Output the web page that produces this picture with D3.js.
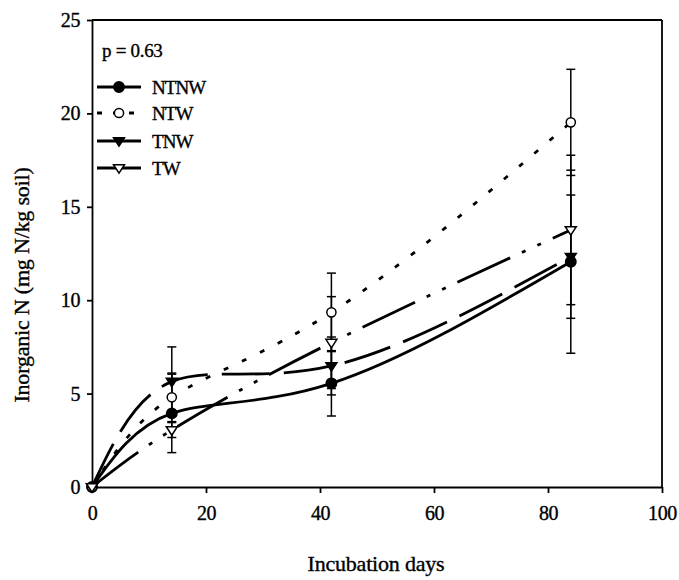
<!DOCTYPE html>
<html>
<head>
<meta charset="utf-8">
<script src="https://cdn.jsdelivr.net/npm/d3@7"></script>
<style>
  body { margin: 0; background: #fff; }
  svg text { font-family: "Liberation Serif", "Times New Roman", serif; fill: #000; stroke: #000; stroke-width: 0.35; }
</style>
</head>
<body>
<svg id="chart" width="679" height="580"></svg>
<script>
// sampling days
const days = [0, 14, 42, 84];

// mean inorganic N (mg N/kg soil), per treatment
const ntnw = [0, 3.94, 5.55, 12.06];
const ntw = [0, 4.8, 9.35, 19.52];
const tnw = [0, 5.64, 6.48, 12.33];
const tw = [0, 3.05, 7.73, 13.76];

// error bar half-lengths
const ntnwErr = [0, 2.1, 1.75, 4.9];
const ntwErr = [0, 1.3, 2.1, 2.84];
const tnwErr = [0, 1.86, 1.55, 3.3];
const twErr = [0, 0.4, 2.46, 4.0];

const xTicks = [0, 20, 40, 60, 80, 100];
const yTicks = [0, 5, 10, 15, 20, 25];
const pLabel = 'p = 0.63';

const series = [
  { name: 'NTNW', values: ntnw, err: ntnwErr, dash: null, marker: 'circle', fill: '#000' },
  { name: 'NTW', values: ntw, err: ntwErr, dash: '5,15', marker: 'circle', fill: '#fff' },
  { name: 'TNW', values: tnw, err: tnwErr, dash: '48,14', marker: 'tri', fill: '#000' },
  { name: 'TW', values: tw, err: twErr, dash: '58,13,4,13,4,13', marker: 'tri', fill: '#fff' },
];

const margin = { top: 20, right: 17, bottom: 93, left: 92 };
const width = 679 - margin.left - margin.right;
const height = 580 - margin.top - margin.bottom;

const svg = d3.select('#chart');
const g = svg.append('g').attr('transform', `translate(${margin.left},${margin.top})`);

const x = d3.scaleLinear().domain([0, 100]).range([0, width]);
const y = d3.scaleLinear().domain([0, 25]).range([height, 0]);

// axes
const xAxis = g.append('g')
  .attr('transform', `translate(0,${height})`)
  .call(d3.axisBottom(x).tickValues(xTicks).tickSize(6).tickSizeOuter(0).tickPadding(13));
const yAxis = g.append('g')
  .call(d3.axisLeft(y).tickValues(yTicks).tickSize(5).tickSizeOuter(0).tickPadding(7));

[xAxis, yAxis].forEach((a) => {
  a.selectAll('path, line').attr('stroke', '#000').attr('stroke-width', 1.8);
  a.selectAll('text').attr('font-size', 20).attr('letter-spacing', -0.4)
    .style('font-family', '"Liberation Serif", serif');
});

// top and right frame
g.append('line').attr('x1', 0).attr('x2', width).attr('y1', 0).attr('y2', 0)
  .attr('stroke', '#000').attr('stroke-width', 1.8);
g.append('line').attr('x1', width).attr('x2', width).attr('y1', 0).attr('y2', height)
  .attr('stroke', '#000').attr('stroke-width', 1.8);

// axis titles
svg.append('text')
  .attr('x', 376).attr('y', 571)
  .attr('text-anchor', 'middle').attr('font-size', 22).attr('letter-spacing', -0.2)
  .text('Incubation days');
svg.append('text')
  .attr('transform', `translate(29,${285}) rotate(-90)`)
  .attr('text-anchor', 'middle').attr('font-size', 22).attr('letter-spacing', -0.2)
  .text('Inorganic N (mg N/kg soil)');

// curves
const line = d3.line()
  .x((d, i) => x(days[i]))
  .y((d) => y(d))
  .curve(d3.curveNatural);

series.forEach((s) => {
  g.append('path')
    .datum(s.values)
    .attr('fill', 'none')
    .attr('stroke', '#000')
    .attr('stroke-width', 2.8)
    .attr('stroke-dasharray', s.dash)
    .attr('d', line);
});

// error bars
const cap = 4.5;
series.forEach((s) => {
  s.values.forEach((v, i) => {
    const e = s.err[i];
    if (!e) return;
    const cx = x(days[i]);
    const eg = g.append('g').attr('stroke', '#000').attr('stroke-width', 1.5);
    eg.append('line').attr('x1', cx).attr('x2', cx).attr('y1', y(v - e)).attr('y2', y(v + e));
    [v - e, v + e].forEach((yy) => {
      eg.append('line').attr('x1', cx - cap).attr('x2', cx + cap).attr('y1', y(yy)).attr('y2', y(yy));
    });
  });
});

function drawMarker(sel, s, cx, cy) {
  if (s.marker === 'circle') {
    sel.append('circle').attr('cx', cx).attr('cy', cy).attr('r', s.fill === '#000' ? 5.2 : 4.6)
      .attr('fill', s.fill).attr('stroke', '#000').attr('stroke-width', 1.5);
  } else {
    const r = 5.5;
    sel.append('path')
      .attr('d', `M${cx - r},${cy - r * 0.6}L${cx + r},${cy - r * 0.6}L${cx},${cy + r * 0.95}Z`)
      .attr('fill', s.fill).attr('stroke', '#000').attr('stroke-width', 1.5);
  }
}

// markers
series.forEach((s) => {
  s.values.forEach((v, i) => drawMarker(g, s, x(days[i]), y(v)));
});

// legend
svg.append('text').attr('x', 102).attr('y', 57).attr('font-size', 19).attr('letter-spacing', -0.3)
  .text(pLabel);
const legendY = [87, 113, 141, 168];
series.forEach((s, i) => {
  const ly = legendY[i];
  svg.append('line').attr('x1', 97).attr('x2', 141).attr('y1', ly).attr('y2', ly)
    .attr('stroke', '#000').attr('stroke-width', 2.8)
    .attr('stroke-dasharray', s.name === 'NTW' ? '5,11' : null);
  drawMarker(svg, s, 119, ly);
  svg.append('text').attr('x', 152).attr('y', ly + 6.5).attr('font-size', 19).attr('letter-spacing', -0.9)
    .text(s.name);
});
</script>
</body>
</html>
